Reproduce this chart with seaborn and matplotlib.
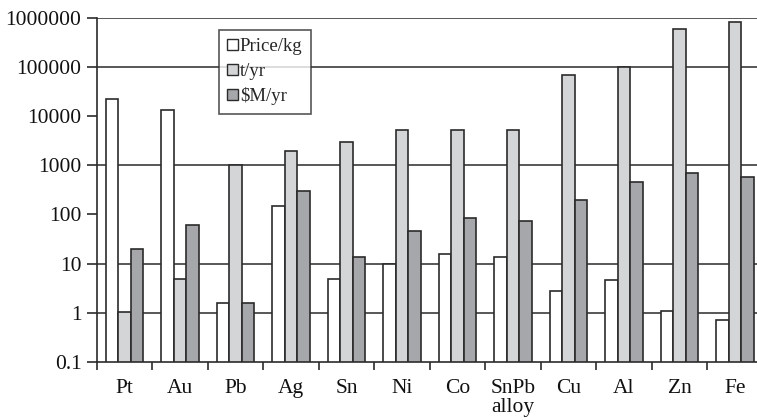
import matplotlib
matplotlib.use("Agg")
import matplotlib.pyplot as plt
import seaborn as sns
import pandas as pd
from matplotlib.ticker import FixedLocator, NullFormatter
from matplotlib.patches import Patch

metals = ["Pt", "Au", "Pb", "Ag", "Sn", "Ni", "Co", "SnPb\nalloy", "Cu", "Al", "Zn", "Fe"]
price_per_kg = [22000, 13000, 1.55, 148, 4.9, 10, 15.8, 13.5, 2.8, 4.6, 1.1, 0.72]
tonnes_per_yr = [1.03, 4.9, 1000, 1950, 2900, 5200, 5200, 5200, 69000, 98000, 580000, 820000]
musd_per_yr = [19.5, 60, 1.6, 300, 13.7, 47, 84, 72, 195, 455, 690, 580]
series_names = ["Price/kg", "t/yr", "$M/yr"]
y_tick_values = [0.1, 1, 10, 100, 1000, 10000, 100000, 1000000]
y_tick_labels = ["0.1", "1", "10", "100", "1000", "10000", "100000", "1000000"]
grid_levels = [1, 10, 1000, 100000, 1000000]

rows = []
for name, vals in zip(series_names, [price_per_kg, tonnes_per_yr, musd_per_yr]):
    for m, v in zip(metals, vals):
        rows.append({"metal": m, "series": name, "value": v})
df = pd.DataFrame(rows)

sns.set_style("white")
plt.rcParams["font.family"] = ["Liberation Serif", "DejaVu Serif"]
plt.rcParams["mathtext.default"] = "regular"

fig = plt.figure(figsize=(7.57, 4.2), dpi=100)
ax = fig.add_axes([0.1277, 0.138, 0.8798, 0.82])
ax.set_yscale("log")

colors = ["#ffffff", "#d4d5d7", "#a6a7aa"]
edge = "#2b2b2b"
sns.barplot(data=df, x="metal", y="value", hue="series", order=metals,
            hue_order=series_names, palette=colors, edgecolor=edge,
            linewidth=1.2, width=0.68, gap=0, dodge=True, ax=ax,
            legend=False, saturation=1, errorbar=None, zorder=3)

ax.set_ylim(0.1, 1000000)
ax.set_xlim(-0.5, len(metals) - 0.5)

for g in grid_levels:
    ax.axhline(g, color="#4a4a4a", lw=1.3, zorder=1)

ax.yaxis.set_major_locator(FixedLocator(y_tick_values))
ax.set_yticklabels(y_tick_labels)
ax.yaxis.set_minor_locator(FixedLocator([]))
ax.tick_params(axis="y", which="major", direction="out", length=7, width=1.2,
               color=edge, labelsize=15.5, pad=4, left=True, labelcolor="#111111")

ax.set_xticks(range(len(metals)))
ax.set_xticklabels(metals)
ax.xaxis.set_minor_locator(FixedLocator([i + 0.5 for i in range(-1, len(metals))]))
ax.xaxis.set_minor_formatter(NullFormatter())
ax.tick_params(axis="x", which="major", length=0, labelsize=15.5, pad=12,
               labelcolor="#111111")
ax.tick_params(axis="x", which="minor", direction="out", length=6, width=1.2,
               color=edge, bottom=True)

for lab in ax.get_xticklabels():
    lab.set_linespacing(1.05)

ax.set_xlabel("")
ax.set_ylabel("")
for s in ["top", "right"]:
    ax.spines[s].set_visible(False)
for s in ["left", "bottom"]:
    ax.spines[s].set_color(edge)
    ax.spines[s].set_linewidth(1.2)
    ax.spines[s].set_zorder(4)

handles = [Patch(facecolor=c, edgecolor=edge, linewidth=1.0) for c in colors]
leg = ax.legend(handles, series_names, loc="upper left", bbox_to_anchor=(0.1836, 0.964),
                frameon=True, fancybox=False, edgecolor=edge, fontsize=13.5,
                handlelength=0.55, handleheight=0.55, handletextpad=0.12,
                borderpad=0.45, labelspacing=0.4, borderaxespad=0)
leg.get_frame().set_linewidth(1.2)
leg.set_zorder(5)

fig.savefig("out.png", dpi=100)
